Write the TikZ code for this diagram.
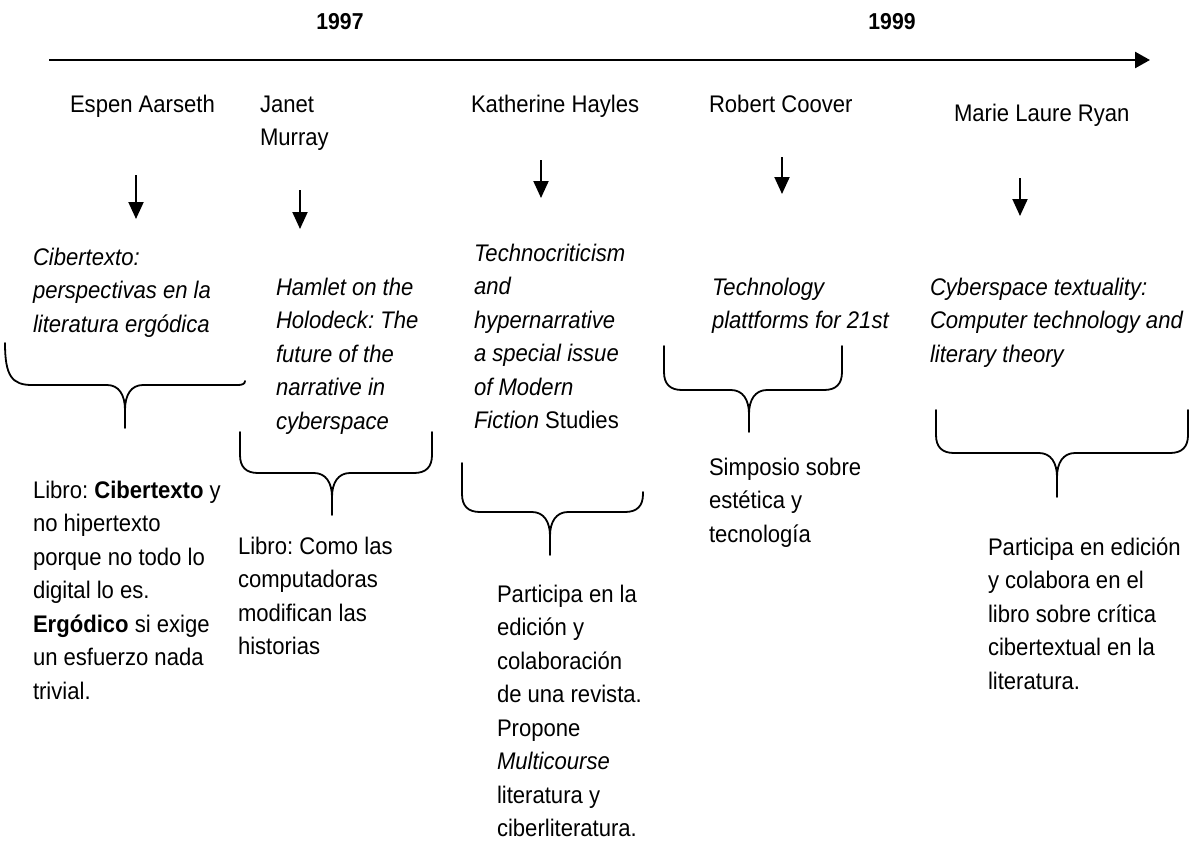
\documentclass[tikz,border=0pt]{standalone}
\usepackage{fontspec}
\setmainfont[FakeStretch=0.92]{Liberation Sans}
\usetikzlibrary{arrows.meta}
\frenchspacing

% several lines stacked, aligned on the baseline of the first line
\newcommand\linesof[1]{\begin{tabular}[t]{@{}l@{}}#1\end{tabular}}

% downward curly brace: left x, left top, right x, right top, bar y, centre x, tip y
\newcommand\drawbrace[7]{%
  \draw[bracket] (#1,#2) -- (#1,{#5-18})
    .. controls (#1,{#5-6}) and ({#1+6},#5) .. ({#1+18},#5)
    -- ({#6-18},#5)
    .. controls ({#6-6},#5) and (#6,{#5+10}) .. (#6,{#5+24})
    -- (#6,#7);
  \draw[bracket] (#3,#4) -- (#3,{#5-18})
    .. controls (#3,{#5-6}) and ({#3-6},#5) .. ({#3-18},#5)
    -- ({#6+18},#5)
    .. controls ({#6+6},#5) and (#6,{#5+10}) .. (#6,{#5+24});
}

\tikzset{
  txt/.style={anchor=base west, inner sep=0pt, outer sep=0pt,
    font=\fontsize{24}{33.5}\selectfont},
  year/.style={anchor=base, inner sep=0pt, font=\fontsize{23}{28}\selectfont\bfseries},
  down/.style={line width=2pt, -{Triangle[width=15pt,length=17pt]}},
  timeline/.style={line width=2.5pt, -{Triangle[width=16pt,length=15pt]}},
  bracket/.style={line width=1.8pt, line join=round, line cap=round},
}

\begin{document}
\begin{tikzpicture}[x=1pt, y=-1pt]
\useasboundingbox (0,0) rectangle (1198,843);

% time axis
\node[year] (yr97) at (340,30) {1997};
\node[year] (yr99) at (892,30) {1999};
\coordinate (axs) at (49,60);
\coordinate (axe) at (1150,60);
\draw[timeline] (axs) -- (axe);

% authors
\node[txt] (n1) at (70,112)  {Espen Aarseth};
\node[txt] (n2) at (260,112) {\linesof{Janet\\Murray}};
\node[txt] (n3) at (471,112) {Katherine Hayles};
\node[txt] (n4) at (709,112) {Robert Coover};
\node[txt] (n5) at (954,121) {Marie Laure Ryan};

% arrows from author to work
\coordinate (a1s) at (136,175);  \coordinate (a1e) at (136,219);
\coordinate (a2s) at (300,190);  \coordinate (a2e) at (300,229);
\coordinate (a3s) at (541,160);  \coordinate (a3e) at (541,198);
\coordinate (a4s) at (782,157);  \coordinate (a4e) at (782,194);
\coordinate (a5s) at (1020,178); \coordinate (a5e) at (1020,216);
\draw[down] (a1s) -- (a1e);
\draw[down] (a2s) -- (a2e);
\draw[down] (a3s) -- (a3e);
\draw[down] (a4s) -- (a4e);
\draw[down] (a5s) -- (a5e);

% works
\node[txt] (t1) at (33,265) {\itshape\linesof{Cibertexto:\\perspectivas en la\\literatura ergódica}};
\node[txt] (t2) at (276,295) {\itshape\linesof{Hamlet on the\\Holodeck: The\\future of the\\narrative in\\cyberspace}};
\node[txt] (t3) at (474,261) {\linesof{\itshape Technocriticism\\\itshape and\\\itshape hypernarrative\\\itshape a special issue\\\itshape of Modern\\\textit{Fiction} Studies}};
\node[txt] (t4) at (712,295) {\itshape\linesof{Technology\\plattforms for 21st}};
\node[txt] (t5) at (930,295) {\itshape\linesof{Cyberspace textuality:\\Computer technology and\\literary theory}};

% braces
\draw[bracket] (5,343) .. controls (5,376) and (12,385) .. (32,385)
  -- (107,385) .. controls (119,385) and (125,395) .. (125,410) -- (125,428);
\draw[bracket] (125,410) .. controls (125,395) and (131,385) .. (143,385)
  -- (238,385) .. controls (242,385) and (245,384) .. (245,381);
\drawbrace{240}{432}{432}{432}{473}{332}{515}
\drawbrace{462}{463}{643}{492}{512}{550}{555}
\drawbrace{664}{346}{842}{346}{390}{749}{432}
\drawbrace{936}{410}{1188}{410}{453}{1057}{497}

% notes
\node[txt] (b1) at (33,498) {\linesof{Libro: \textbf{Cibertexto} y\\no hipertexto\\porque no todo lo\\digital lo es.\\\textbf{Ergódico} si exige\\un esfuerzo nada\\trivial.}};
\node[txt] (b2) at (238,554) {\linesof{Libro: Como las\\computadoras\\modifican las\\historias}};
\node[txt] (b3) at (497,602) {\linesof{Participa en la\\edición y\\colaboración\\de una revista.\\Propone\\\textit{Multicourse}\\literatura y\\ciberliteratura.}};
\node[txt] (b4) at (709,475) {\linesof{Simposio sobre\\estética y\\tecnología}};
\node[txt] (b5) at (988,555) {\linesof{Participa en edición\\y colabora en el\\libro sobre crítica\\cibertextual en la\\literatura.}};
\end{tikzpicture}
\end{document}
